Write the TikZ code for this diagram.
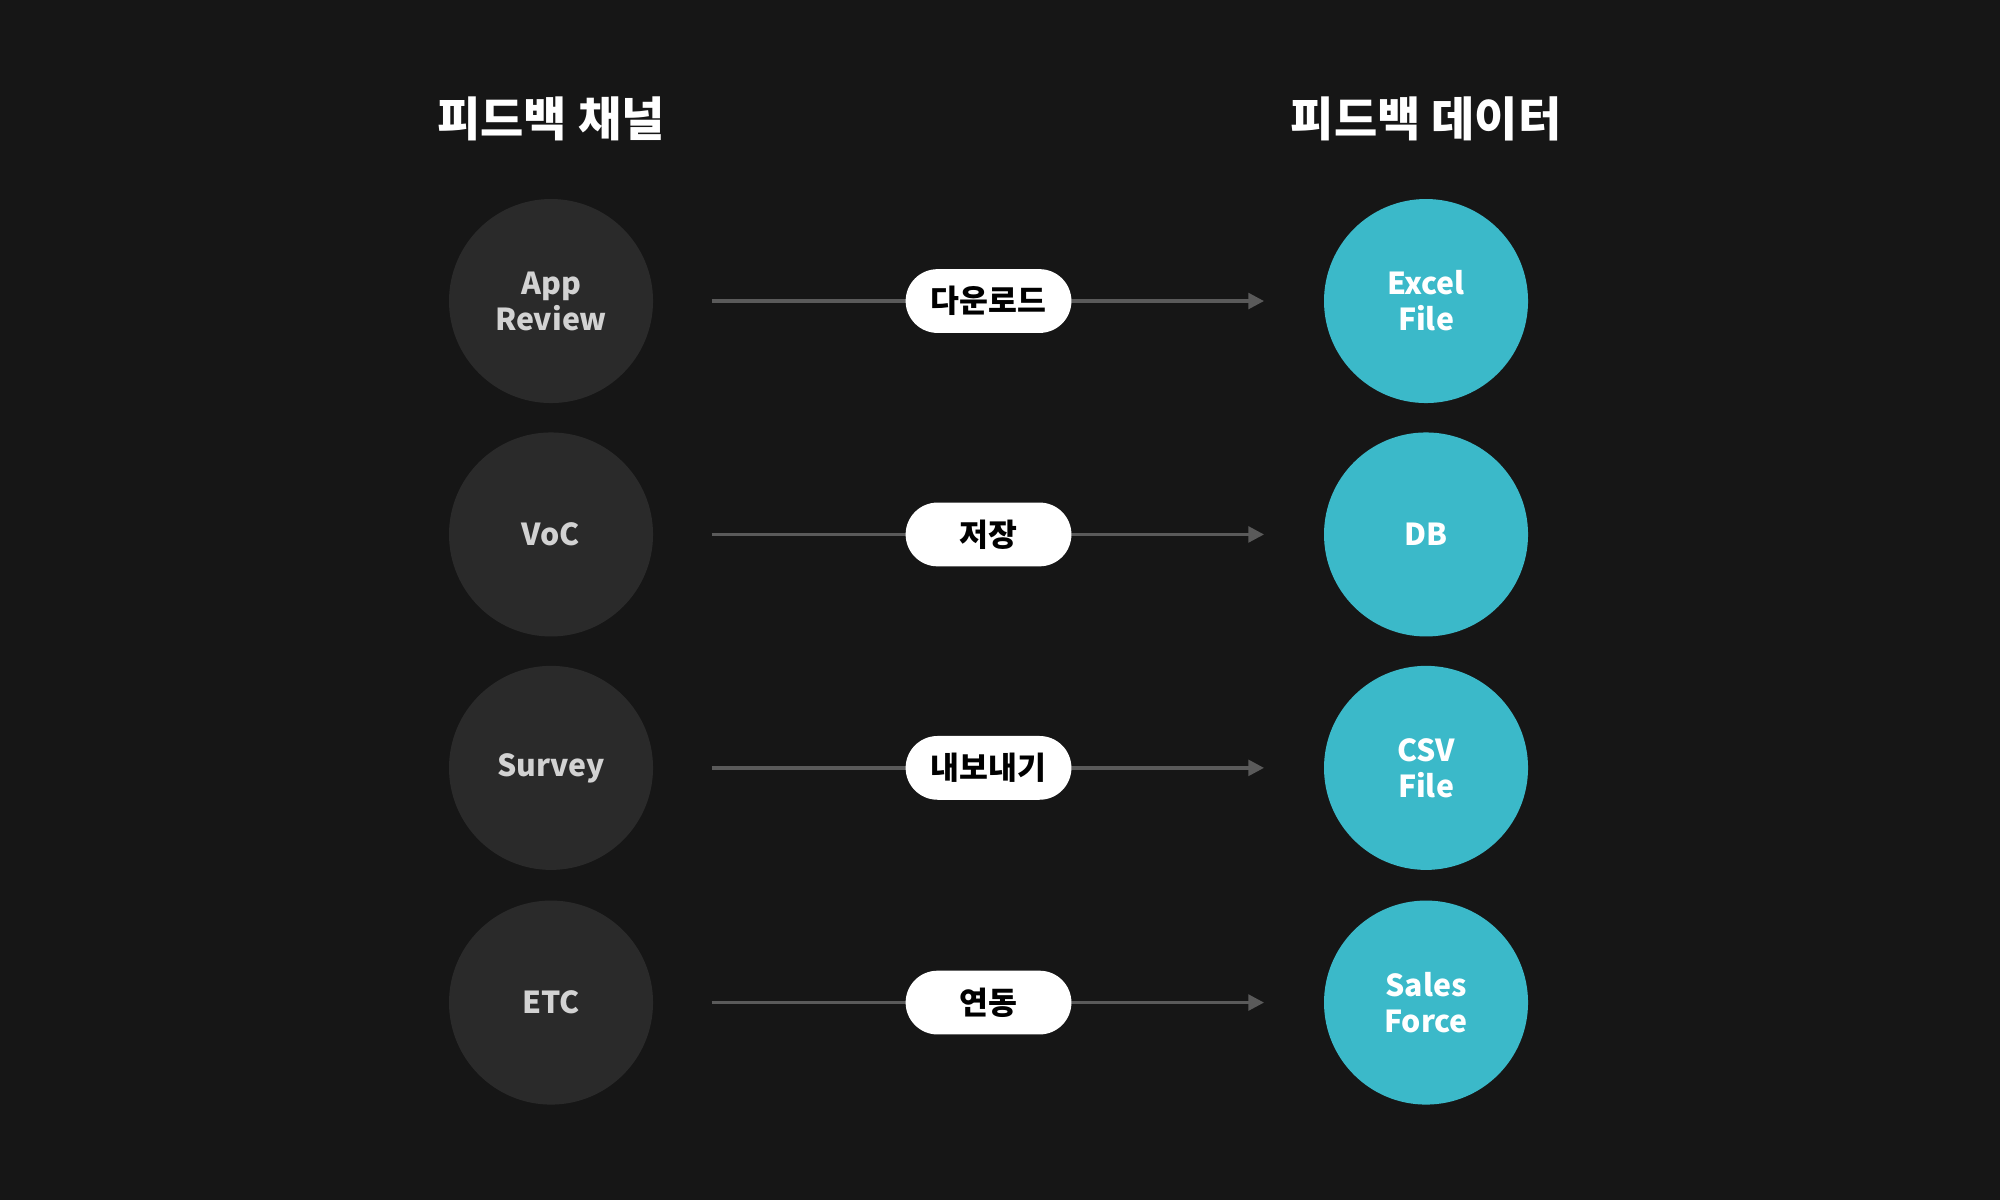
\documentclass[tikz,border=0pt]{standalone}
\usepackage{fontspec}
\setmainfont{Noto Sans CJK KR}
\usetikzlibrary{arrows.meta}
\definecolor{bg}{HTML}{161616}
\definecolor{darkc}{HTML}{2A2A2A}
\definecolor{teal}{HTML}{3BB9C9}
\definecolor{linec}{HTML}{5A5A5A}
\definecolor{ltxt}{HTML}{D2D2D2}
\begin{document}
\begin{tikzpicture}[x=0.02cm,y=-0.02cm,
  src/.style={circle,fill=darkc,minimum size=3.2cm,inner sep=0pt,align=center,text=ltxt,font=\fontsize{13.5}{16}\selectfont\bfseries},
  dst/.style={circle,fill=teal,minimum size=3.2cm,inner sep=0pt,align=center,text=white,font=\fontsize{13.5}{16}\selectfont\bfseries},
  pill/.style={rounded corners=0.5cm,fill=white,minimum width=2.6cm,minimum height=1cm,inner sep=0pt,text=black,font=\fontsize{14}{16}\selectfont\bfseries},
  ttl/.style={text=white,font=\fontsize{21}{24}\selectfont\bfseries},
  conn/.style={draw=linec,line width=1.5pt,-{Triangle[length=7pt,width=7pt]}}]
\fill[bg] (0,0) rectangle (1568,941);
\node[ttl] (t1) at (432,93) {피드백 채널};
\node[ttl] (t2) at (1118,93) {피드백 데이터};
\foreach \n/\y/\a/\p/\b in {1/236/{App\\Review}/다운로드/{Excel\\File},2/419/VoC/저장/DB,3/602/Survey/내보내기/{CSV\\File},4/786/ETC/연동/{Sales\\Force}}{
  \node[src] (s\n) at (432,\y) {\a};
  \node[dst] (d\n) at (1118,\y) {\b};
  \coordinate (a\n) at (558,\y);
  \coordinate (b\n) at (991,\y);
  \draw[conn] (a\n) -- (b\n);
  \node[pill] (p\n) at (775,\y) {\p};
}
\end{tikzpicture}
\end{document}
